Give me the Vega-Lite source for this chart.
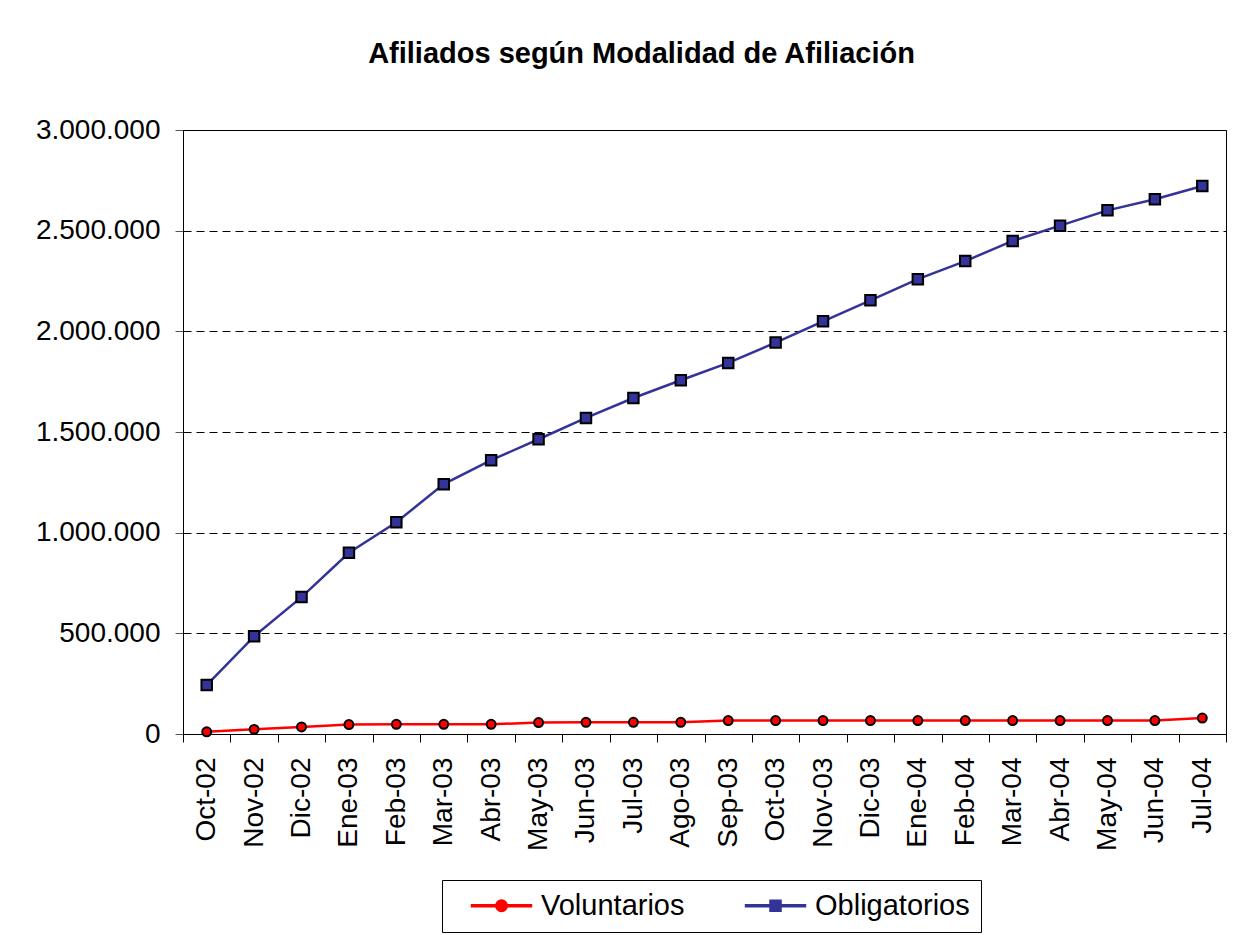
{
  "$schema": "https://vega.github.io/schema/vega-lite/v6.json",
  "width": 1043,
  "height": 604,
  "autosize": {"type": "none"},
  "padding": {"left": 183, "top": 130, "right": 29, "bottom": 201},
  "background": "white",
  "title": {
    "text": "Afiliados según Modalidad de Afiliación",
    "font": "Liberation Sans",
    "fontSize": 29,
    "fontWeight": "bold",
    "color": "black",
    "anchor": "middle",
    "frame": "group",
    "baseline": "alphabetic",
    "offset": 24,
    "dx": -63
  },
  "data": {
    "values": [
      {"mes": "Oct-02", "serie": "Voluntarios", "valor": 11000},
      {"mes": "Nov-02", "serie": "Voluntarios", "valor": 23000},
      {"mes": "Dic-02", "serie": "Voluntarios", "valor": 35000},
      {"mes": "Ene-03", "serie": "Voluntarios", "valor": 47000},
      {"mes": "Feb-03", "serie": "Voluntarios", "valor": 48000},
      {"mes": "Mar-03", "serie": "Voluntarios", "valor": 48000},
      {"mes": "Abr-03", "serie": "Voluntarios", "valor": 48000},
      {"mes": "May-03", "serie": "Voluntarios", "valor": 57000},
      {"mes": "Jun-03", "serie": "Voluntarios", "valor": 58000},
      {"mes": "Jul-03", "serie": "Voluntarios", "valor": 58000},
      {"mes": "Ago-03", "serie": "Voluntarios", "valor": 58000},
      {"mes": "Sep-03", "serie": "Voluntarios", "valor": 67000},
      {"mes": "Oct-03", "serie": "Voluntarios", "valor": 67000},
      {"mes": "Nov-03", "serie": "Voluntarios", "valor": 67000},
      {"mes": "Dic-03", "serie": "Voluntarios", "valor": 67000},
      {"mes": "Ene-04", "serie": "Voluntarios", "valor": 67000},
      {"mes": "Feb-04", "serie": "Voluntarios", "valor": 67000},
      {"mes": "Mar-04", "serie": "Voluntarios", "valor": 67000},
      {"mes": "Abr-04", "serie": "Voluntarios", "valor": 67000},
      {"mes": "May-04", "serie": "Voluntarios", "valor": 67000},
      {"mes": "Jun-04", "serie": "Voluntarios", "valor": 67000},
      {"mes": "Jul-04", "serie": "Voluntarios", "valor": 79000},
      {"mes": "Oct-02", "serie": "Obligatorios", "valor": 243000},
      {"mes": "Nov-02", "serie": "Obligatorios", "valor": 485000},
      {"mes": "Dic-02", "serie": "Obligatorios", "valor": 680000},
      {"mes": "Ene-03", "serie": "Obligatorios", "valor": 900000},
      {"mes": "Feb-03", "serie": "Obligatorios", "valor": 1052000},
      {"mes": "Mar-03", "serie": "Obligatorios", "valor": 1241000},
      {"mes": "Abr-03", "serie": "Obligatorios", "valor": 1360000},
      {"mes": "May-03", "serie": "Obligatorios", "valor": 1464000},
      {"mes": "Jun-03", "serie": "Obligatorios", "valor": 1570000},
      {"mes": "Jul-03", "serie": "Obligatorios", "valor": 1669000},
      {"mes": "Ago-03", "serie": "Obligatorios", "valor": 1757000},
      {"mes": "Sep-03", "serie": "Obligatorios", "valor": 1843000},
      {"mes": "Oct-03", "serie": "Obligatorios", "valor": 1944000},
      {"mes": "Nov-03", "serie": "Obligatorios", "valor": 2050000},
      {"mes": "Dic-03", "serie": "Obligatorios", "valor": 2154000},
      {"mes": "Ene-04", "serie": "Obligatorios", "valor": 2259000},
      {"mes": "Feb-04", "serie": "Obligatorios", "valor": 2349000},
      {"mes": "Mar-04", "serie": "Obligatorios", "valor": 2449000},
      {"mes": "Abr-04", "serie": "Obligatorios", "valor": 2525000},
      {"mes": "May-04", "serie": "Obligatorios", "valor": 2601000},
      {"mes": "Jun-04", "serie": "Obligatorios", "valor": 2656000},
      {"mes": "Jul-04", "serie": "Obligatorios", "valor": 2722000}
    ]
  },
  "encoding": {
    "x": {
      "field": "mes",
      "type": "nominal",
      "sort": null,
      "title": null,
      "scale": {"type": "band", "paddingInner": 0, "paddingOuter": 0},
      "axis": {
        "labelAngle": -90,
        "labelAlign": "right",
        "labelBaseline": "middle",
        "labelFont": "Liberation Sans",
        "labelFontSize": 28,
        "labelColor": "black",
        "labelPadding": 15,
        "tickBand": "extent",
        "tickSize": 8,
        "tickColor": "black",
        "domainColor": "black",
        "domainWidth": 1,
        "grid": false
      }
    },
    "y": {
      "field": "valor",
      "type": "quantitative",
      "title": null,
      "scale": {"domain": [0, 3000000], "nice": false, "zero": true},
      "axis": {
        "values": [0, 500000, 1000000, 1500000, 2000000, 2500000, 3000000],
        "format": ",d",
        "labelFont": "Liberation Sans",
        "labelFontSize": 28,
        "labelColor": "black",
        "labelPadding": 15,
        "tickSize": 8,
        "tickColor": "#555555",
        "domainColor": "black",
        "domainWidth": 1,
        "grid": true,
        "gridColor": "black",
        "gridDash": [8, 5],
        "gridWidth": 1
      }
    },
    "color": {
      "field": "serie",
      "type": "nominal",
      "scale": {"domain": ["Voluntarios", "Obligatorios"], "range": ["#FF0000", "#333399"]},
      "legend": {
        "title": null,
        "orient": "none",
        "legendX": 259,
        "legendY": 750,
        "direction": "horizontal",
        "labelFont": "Liberation Sans",
        "labelFontSize": 29,
        "labelColor": "black",
        "strokeColor": "black",
        "fillColor": "white",
        "padding": 11,
        "columnPadding": 42,
        "symbolSize": 121,
        "symbolOffset": 34,
        "symbolOpacity": 1,
        "labelOffset": 25
      }
    }
  },
  "layer": [
    {"mark": {"type": "line", "strokeWidth": 2.5}},
    {
      "transform": [{"filter": "datum.serie === 'Voluntarios'"}],
      "mark": {"type": "point", "shape": "circle", "filled": true, "stroke": "black", "strokeWidth": 2, "size": 80, "opacity": 1},
      "encoding": {"color": {"value": "#FF0000"}}
    },
    {
      "transform": [{"filter": "datum.serie === 'Obligatorios'"}],
      "mark": {"type": "point", "shape": "square", "filled": true, "stroke": "black", "strokeWidth": 2, "size": 110, "opacity": 1},
      "encoding": {"color": {"value": "#333399"}}
    },
    {
      "transform": [{"filter": "datum.valor < 0"}],
      "mark": {"type": "point", "filled": true, "opacity": 1},
      "encoding": {
        "shape": {
          "field": "serie",
          "type": "nominal",
          "scale": {
            "domain": ["Voluntarios", "Obligatorios"],
            "range": [
              "M-5.45,-0.2H-0.9V0.2H-5.45ZM0.9,-0.2H5.45V0.2H0.9ZM-1.05,0A1.05,1.05,0,1,1,1.05,0A1.05,1.05,0,1,1,-1.05,0Z",
              "M-5.45,-0.2H-0.9V0.2H-5.45ZM0.9,-0.2H5.45V0.2H0.9ZM-1,-1H1V1H-1Z"
            ]
          }
        }
      }
    }
  ],
  "config": {
    "locale": {"number": {"decimal": ",", "thousands": ".", "grouping": [3], "currency": ["$", ""]}},
    "view": {"stroke": "black", "strokeWidth": 1}
  }
}
